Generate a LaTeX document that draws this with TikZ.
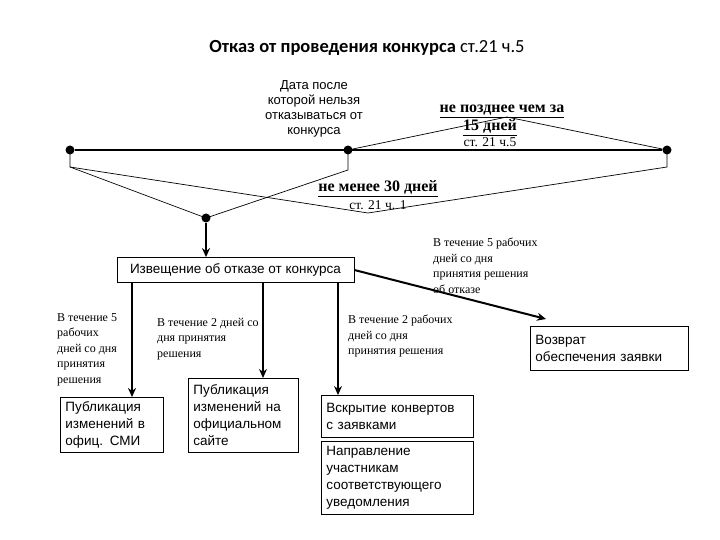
\documentclass[tikz,border=0pt]{standalone}
\usepackage{fontspec}
\setmainfont{Liberation Serif}
\setsansfont{Liberation Sans}
\newfontfamily\titlefont{Carlito}
\usetikzlibrary{arrows.meta}

\begin{document}
\begin{tikzpicture}[x=1pt,y=-1pt,
  box/.style={draw,line width=0.8pt,anchor=north west,align=left,inner xsep=5pt,
    font=\sffamily\fontsize{13.5}{17}\selectfont},
  note/.style={anchor=north west,align=left,inner sep=0pt,font=\fontsize{12}{15.5}\selectfont},
  term/.style={anchor=base,inner sep=0pt,font=\bfseries\fontsize{16}{18}\selectfont},
  article/.style={anchor=base,inner sep=0pt,font=\fontsize{13.5}{15}\selectfont},
  dot/.style={circle,fill,inner sep=0pt,minimum size=9pt},
  brace/.style={line width=0.7pt},
  arr/.style={-{Stealth[length=9pt,width=8pt]}}]
\useasboundingbox (0,0) rectangle (720,540);

% title
\node[font=\titlefont\fontsize{18.5}{20}\selectfont] (title) at (367,48)
  {\textbf{Отказ от проведения конкурса} ст.21 ч.5};

% time line
\node[dot] (start) at (70,150) {};
\node[dot] (limit) at (348,150) {};
\node[dot] (open) at (667,150) {};
\node[dot] (notify) at (206,218) {};
\draw[line width=2.5pt] (start) -- (open);

\coordinate (peak15) at (507,117);
\coordinate (peak30) at (368,213);
\draw[brace] (limit.center) -- (peak15) -- (open.center);
\draw[brace] (start.center) -- ++(0,17) -- (peak30) -- (667,167) -- (open.center);
\draw[brace] (start.center) ++(0,17) -- (notify.center);
\draw[brace] (limit.center) -- ++(0,20) -- (notify.center);

\node[align=center,inner sep=0pt,font=\sffamily\fontsize{13}{15}\selectfont] (date) at (314,109)
  {Дата после\\которой нельзя\\отказываться от\\конкурса};
\node[term] (d15a) at (502,113) {\underline{не позднее чем за}};
\node[term] (d15b) at (490,131) {\underline{15 дней}};
\node[article] (art5) at (490,147) {ст. 21 ч.5};
\node[term] (d30) at (378,192) {\underline{не менее 30 дней}};
\node[article] (art1) at (378,210) {ст. 21 ч. 1};

% boxes
\node[box,anchor=center,minimum width=237pt,minimum height=25pt] (notice) at (235.5,270)
  {Извещение об отказе от конкурса};
\node[box,text width=93pt,minimum height=55pt] (smi) at (60,397)
  {Публикация\\изменений в\\офиц. СМИ};
\node[box,text width=100pt,minimum height=74pt] (site) at (188,378)
  {Публикация\\изменений на\\официальном\\сайте};
\node[box,text width=142pt,minimum height=42pt] (envel) at (321,395)
  {Вскрытие конвертов\\с заявками};
\node[box,text width=142pt,minimum height=73pt] (inform) at (321,441)
  {Направление\\участникам\\соответствующего\\уведомления};
\node[box,text width=148pt,minimum height=44pt] (refund) at (530,326)
  {Возврат\\обеспечения заявки};

% notes
\node[note] (n5) at (57,313) {В течение 5\\рабочих\\дней со дня\\принятия\\решения};
\node[note] (n2) at (157,318) {В течение 2 дней со\\дня принятия\\решения};
\node[note] (n2w) at (348,315) {В течение 2 рабочих\\дней со дня\\принятия решения};
\node[note] (n5w) at (433,238) {В течение 5 рабочих\\дней со дня\\принятия решения\\об отказе};

% arrows
\coordinate (xsmi) at (132,0);
\coordinate (xsite) at (263,0);
\coordinate (xenv) at (338,0);
\coordinate (refundtip) at (546,319);
\draw[arr,line width=2pt] (notify) -- (notice.north -| notify);
\draw[arr,line width=2.5pt] (notice.south -| xsmi) -- (smi.north -| xsmi);
\draw[arr,line width=1.2pt] (notice.south -| xsite) -- (site.north -| xsite);
\draw[arr,line width=1.2pt] (notice.south -| xenv) -- (envel.north -| xenv);
\draw[arr,line width=2pt] (notice.east) -- (refundtip);
\end{tikzpicture}
\end{document}
